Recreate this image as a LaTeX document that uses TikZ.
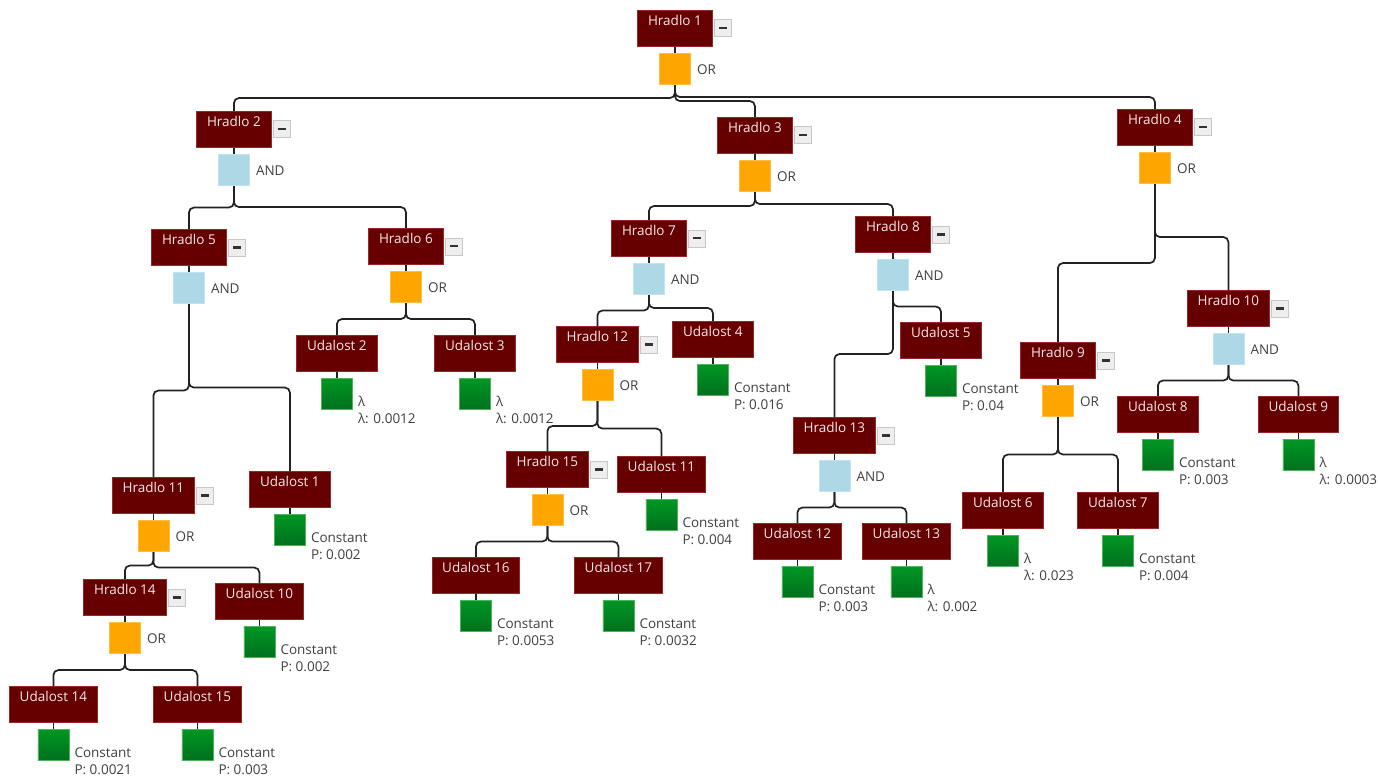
\documentclass[tikz,border=0pt]{standalone}
\usepackage{fontspec}
\setmainfont{Open Sans}
\usetikzlibrary{calc}
\definecolor{boxfill}{RGB}{102,0,0}
\definecolor{boxline}{RGB}{150,40,40}
\definecolor{boxtext}{RGB}{245,232,232}
\definecolor{orgfill}{RGB}{255,165,0}
\definecolor{orgline}{RGB}{255,190,70}
\definecolor{andfill}{RGB}{173,216,230}
\definecolor{andline}{RGB}{195,228,238}
\definecolor{grtop}{RGB}{0,150,35}
\definecolor{grbot}{RGB}{0,112,30}
\definecolor{grline}{RGB}{80,180,90}
\definecolor{btnfill}{RGB}{238,238,238}
\definecolor{btnline}{RGB}{200,200,200}
\definecolor{minusc}{RGB}{50,50,50}
\definecolor{lblc}{RGB}{64,64,64}
\definecolor{connc}{RGB}{34,34,34}
\newcommand\myboxfont{\fontsize{13.5pt}{15pt}\selectfont}
\tikzset{
  redbox/.style={draw=boxline, fill=boxfill, text=boxtext, font=\myboxfont,
    text height=9.5pt, text depth=15.5pt, inner ysep=5.5pt, inner xsep=0pt,
    line width=0.8pt, anchor=north west},
  minusbtn/.style={draw=btnline, fill=btnfill, minimum size=17pt, inner sep=0pt, line width=0.8pt},
  gatebox/.style={minimum size=31pt, inner sep=0pt, anchor=north, line width=0.8pt},
  orgate/.style={gatebox, fill=orgfill, draw=orgline},
  andgate/.style={gatebox, fill=andfill, draw=andline},
  evt/.style={gatebox, top color=grtop, bottom color=grbot, draw=grline},
  lbl/.style={text=lblc, font=\myboxfont, inner sep=0pt},
  conn/.style={draw=connc, line width=1.7pt},
}
\newcommand\HR[7]{%
  \node[redbox, minimum width=#5pt] (#1) at (#3,#4) {Hradlo #2};
  \node[minusbtn, anchor=west] (#1m) at ([xshift=1.5pt]#1.east) {\textcolor{minusc}{\rule{8pt}{2.2pt}}};
  \node[#6] (#1g) at ([yshift=-6.5pt]#1.south) {};
  \node[lbl, anchor=west] (#1l) at ([xshift=6pt]#1g.east) {#7};
  \draw[conn] (#1.south) -- (#1g.north);
}
\newcommand\UD[7]{%
  \node[redbox, minimum width=#5pt] (#1) at (#3,#4) {Udalost #2};
  \node[evt] (#1g) at ([yshift=-6.5pt]#1.south) {};
  \node[lbl, anchor=base west] (#1a) at ([xshift=5pt,yshift=4pt]#1g.south east) {#6};
  \node[lbl, anchor=base west] (#1b) at ([xshift=5pt,yshift=-13pt]#1g.south east) {#7};
  \draw[conn] (#1.south) -- (#1g.north);
}
\newcommand\ED[2]{%
  \coordinate (mid#1#2) at ($(#1g.south)!.5!(#2.north)$);
  \draw[conn, rounded corners=5pt] (#1g.south) -- (#1g.south |- mid#1#2) -- (#2.north |- mid#1#2) -- (#2.north);
}
\begin{document}
\begin{tikzpicture}[x=1pt,y=-1pt]
\useasboundingbox (0,0) rectangle (1378,778);
\fill[white] (0,0) rectangle (1378,778);
% gates
\HR{h1}{1}{637}{10}{75}{orgate}{OR}
\HR{h2}{2}{196}{111}{75}{andgate}{AND}
\HR{h3}{3}{717}{117}{75}{orgate}{OR}
\HR{h4}{4}{1117}{109}{75}{orgate}{OR}
\HR{h5}{5}{151}{229}{75}{andgate}{AND}
\HR{h6}{6}{368}{228}{75}{orgate}{OR}
\HR{h7}{7}{611}{220}{75}{andgate}{AND}
\HR{h8}{8}{855}{216}{75}{andgate}{AND}
\HR{h9}{9}{1020}{342}{75}{orgate}{OR}
\HR{h10}{10}{1187}{290}{82}{andgate}{AND}
\HR{h11}{11}{112}{477}{82}{orgate}{OR}
\HR{h12}{12}{556}{326}{82}{orgate}{OR}
\HR{h13}{13}{793}{417}{82}{andgate}{AND}
\HR{h14}{14}{83}{579}{83}{orgate}{OR}
\HR{h15}{15}{506}{451}{82}{orgate}{OR}
% events
\UD{u1}{1}{249}{471}{81}{Constant}{P: 0.002}
\UD{u2}{2}{296}{335}{81}{λ}{λ: 0.0012}
\UD{u3}{3}{434}{335}{81}{λ}{λ: 0.0012}
\UD{u4}{4}{672}{321}{81}{Constant}{P: 0.016}
\UD{u5}{5}{900}{322}{81}{Constant}{P: 0.04}
\UD{u6}{6}{962}{492}{81}{λ}{λ: 0.023}
\UD{u7}{7}{1077}{492}{81}{Constant}{P: 0.004}
\UD{u8}{8}{1117}{396}{81}{Constant}{P: 0.003}
\UD{u9}{9}{1258}{396}{80}{λ}{λ: 0.0003}
\UD{u10}{10}{215}{583}{88}{Constant}{P: 0.002}
\UD{u11}{11}{617}{456}{88}{Constant}{P: 0.004}
\UD{u12}{12}{753}{523}{88}{Constant}{P: 0.003}
\UD{u13}{13}{862}{523}{88}{λ}{λ: 0.002}
\UD{u14}{14}{9}{686}{88}{Constant}{P: 0.0021}
\UD{u15}{15}{153}{686}{88}{Constant}{P: 0.003}
\UD{u16}{16}{432}{557}{87}{Constant}{P: 0.0053}
\UD{u17}{17}{574}{557}{88}{Constant}{P: 0.0032}
% edges
\ED{h1}{h2}\ED{h1}{h3}\ED{h1}{h4}
\ED{h2}{h5}\ED{h2}{h6}
\ED{h3}{h7}\ED{h3}{h8}
\ED{h4}{h9}\ED{h4}{h10}
\ED{h5}{h11}\ED{h5}{u1}
\ED{h6}{u2}\ED{h6}{u3}
\ED{h7}{h12}\ED{h7}{u4}
\ED{h8}{h13}\ED{h8}{u5}
\ED{h9}{u6}\ED{h9}{u7}
\ED{h10}{u8}\ED{h10}{u9}
\ED{h11}{h14}\ED{h11}{u10}
\ED{h12}{h15}\ED{h12}{u11}
\ED{h13}{u12}\ED{h13}{u13}
\ED{h14}{u14}\ED{h14}{u15}
\ED{h15}{u16}\ED{h15}{u17}
\end{tikzpicture}
\end{document}
